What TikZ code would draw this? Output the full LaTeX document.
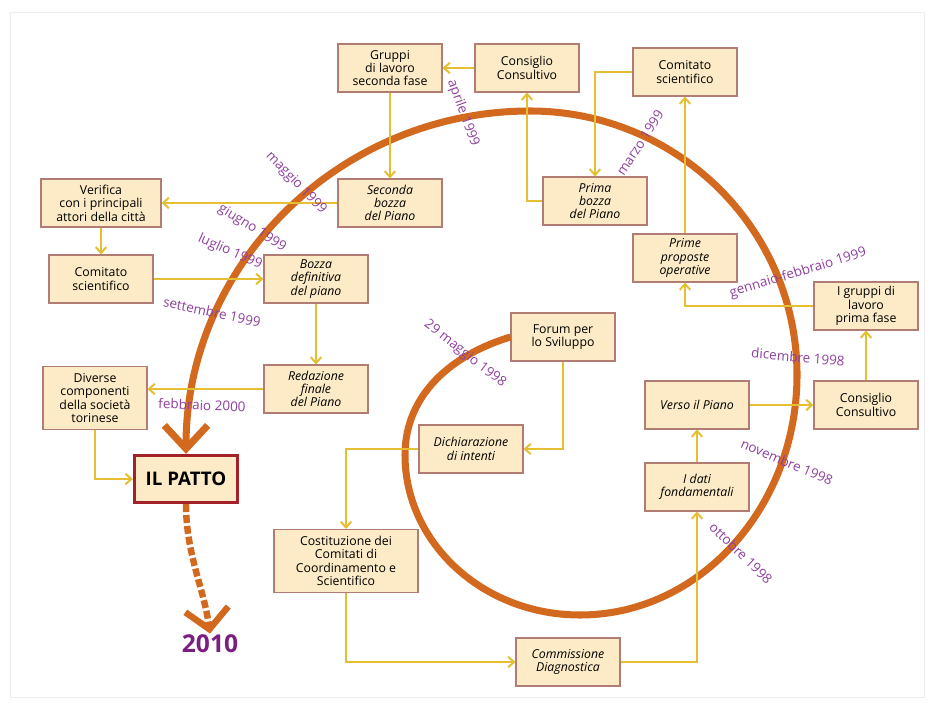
\documentclass[tikz,border=0pt]{standalone}
\usepackage{fontspec}
\setmainfont{Open Sans}
\usepackage{tikz}
\usetikzlibrary{arrows.meta,positioning}
\definecolor{Spiral}{HTML}{D2691E}
\definecolor{Link}{HTML}{E6BE32}
\definecolor{BoxFill}{HTML}{FCEBC6}
\definecolor{BoxLine}{HTML}{B07C74}
\definecolor{Month}{HTML}{8E3F9E}
\definecolor{Pact}{HTML}{A3222A}
\definecolor{Year}{HTML}{7A1F7E}

\begin{document}
\begin{tikzpicture}[
  x=0.03cm,y=-0.03cm,
  stagebox/.style={draw=BoxLine,line width=0.9pt,fill=BoxFill,minimum width=3.12cm,minimum height=1.44cm,align=center,inner sep=2pt,font=\fontsize{10.5}{11.4}\selectfont},
  italicbox/.style={stagebox,font=\fontsize{10.5}{11.4}\selectfont\itshape},
  pactbox/.style={draw=Pact,line width=2.5pt,fill=BoxFill,minimum width=3.1cm,minimum height=1.42cm,font=\fontsize{16}{18}\selectfont\bfseries},
  yearlabel/.style={text=Year,font=\fontsize{21}{23}\selectfont\bfseries,inner sep=1pt},
  datelabel/.style={text=Month,font=\fontsize{11.5}{13}\selectfont,inner sep=0pt},
  link/.style={draw=Link,line width=1.7pt,-{Straight Barb[length=5pt,width=9pt]}},
  spiral/.style={draw=Spiral,line width=6pt,-{Straight Barb[length=0.7cm,width=1.3cm]}},
  futurearrow/.style={draw=Spiral,line width=5.5pt,dash pattern=on 6.8pt off 2.5pt,-{Straight Barb[length=0.6cm,width=1.3cm]}}
]
\useasboundingbox (0,0) rectangle (934,709);
\draw[black!7] (10,12) rectangle (924,697);

% outer ring, 1999
\node[stagebox] (gruppiB) at (390,68) {Gruppi\\di lavoro\\seconda fase};
\node[stagebox] (consTop) at (527,68) {Consiglio\\Consultivo};
\node[stagebox] (comTop) at (685,72) {Comitato\\scientifico};
\node[italicbox] (primaB) at (595,201) {Prima\\bozza\\del Piano};
\node[italicbox] (secondaB) at (390,203) {Seconda\\bozza\\del Piano};
\node[stagebox,minimum width=3.6cm] (verifica) at (101,203) {Verifica\\con i principali\\attori della città};
\node[stagebox] (comLeft) at (101,279) {Comitato\\scientifico};
\node[italicbox] (bozzaDef) at (316,279) {Bozza\\definitiva\\del piano};
\node[italicbox] (redazione) at (316,389) {Redazione\\finale\\del Piano};
\node[stagebox,minimum height=1.89cm] (diverse) at (95,398) {Diverse\\componenti\\della società\\torinese};
\node[pactbox] (patto) at (186,479) {IL PATTO};
\node[yearlabel] (anno) at (210,644) {2010};

% inner ring, 1998
\node[stagebox] (forum) at (563,337) {Forum per\\lo Sviluppo};
\node[italicbox] (dich) at (471,449) {Dichiarazione\\di intenti};
\node[stagebox,minimum width=4.32cm,minimum height=1.89cm] (costit) at (346,561) {Costituzione dei\\Comitati di\\Coordinamento e\\Scientifico};
\node[italicbox] (commiss) at (568,662) {Commissione\\Diagnostica};
\node[italicbox] (dati) at (697,487) {I dati\\fondamentali};
\node[italicbox] (verso) at (697,405) {Verso il Piano};
\node[stagebox] (consRight) at (866,405) {Consiglio\\Consultivo};
\node[stagebox] (gruppiA) at (866,306) {I gruppi di\\lavoro\\prima fase};
\node[italicbox] (prime) at (685,258) {Prime\\proposte\\operative};

% the spiral
\draw[spiral] (forum.west) .. controls (451,355) and (405,395) .. (405,455)
  .. controls (405,543) and (483,615) .. (580,615)
  .. controls (700,615) and (797,507) .. (797,375)
  .. controls (797,229) and (677,111) .. (530,111)
  .. controls (340,111) and (186,264) .. (patto.north);
\draw[futurearrow] (patto.south) .. controls +(0,50) and +(-6,-45) .. (anno.north);

% connectors
\foreach \x/\y in {dati/verso,verso/consRight,consRight/gruppiA,prime/comTop,consTop/gruppiB,gruppiB/secondaB,secondaB/verifica,verifica/comLeft,comLeft/bozzaDef,bozzaDef/redazione}
  \draw[link] (\x) -- (\y);
\foreach \x/\y/\r in {forum/dich/|-,dich/costit/-|,costit/commiss/|-,commiss/dati/-|,gruppiA/prime/-|,comTop/primaB/-|,primaB/consTop/-|,diverse/patto/|-}
  \draw[link] (\x) \r (\y);
\draw[link] (redazione.west) -- (redazione.west -| diverse.east);

% months
\node[datelabel,rotate=-38] (d1) at (465,354) {29 maggio 1998};
\node[datelabel,rotate=-44] (d2) at (741,553) {ottobre 1998};
\node[datelabel,rotate=-23] (d3) at (787,462) {novembre 1998};
\node[datelabel,rotate=-5] (d4) at (798,357) {dicembre 1998};
\node[datelabel,rotate=17] (d5) at (798,273) {gennaio-febbraio 1999};
\node[datelabel,rotate=57] (d6) at (640,143) {marzo 1999};
\node[datelabel,rotate=-70] (d7) at (463,113) {aprile 1999};
\node[datelabel,rotate=-46] (d8) at (296,183) {maggio 1999};
\node[datelabel,rotate=-32] (d9) at (252,228) {giugno 1999};
\node[datelabel,rotate=-24] (d10) at (230,252) {luglio 1999};
\node[datelabel,rotate=-12] (d11) at (212,312) {settembre 1999};
\node[datelabel,rotate=-2] (d12) at (202,405) {febbraio 2000};
\end{tikzpicture}
\end{document}
